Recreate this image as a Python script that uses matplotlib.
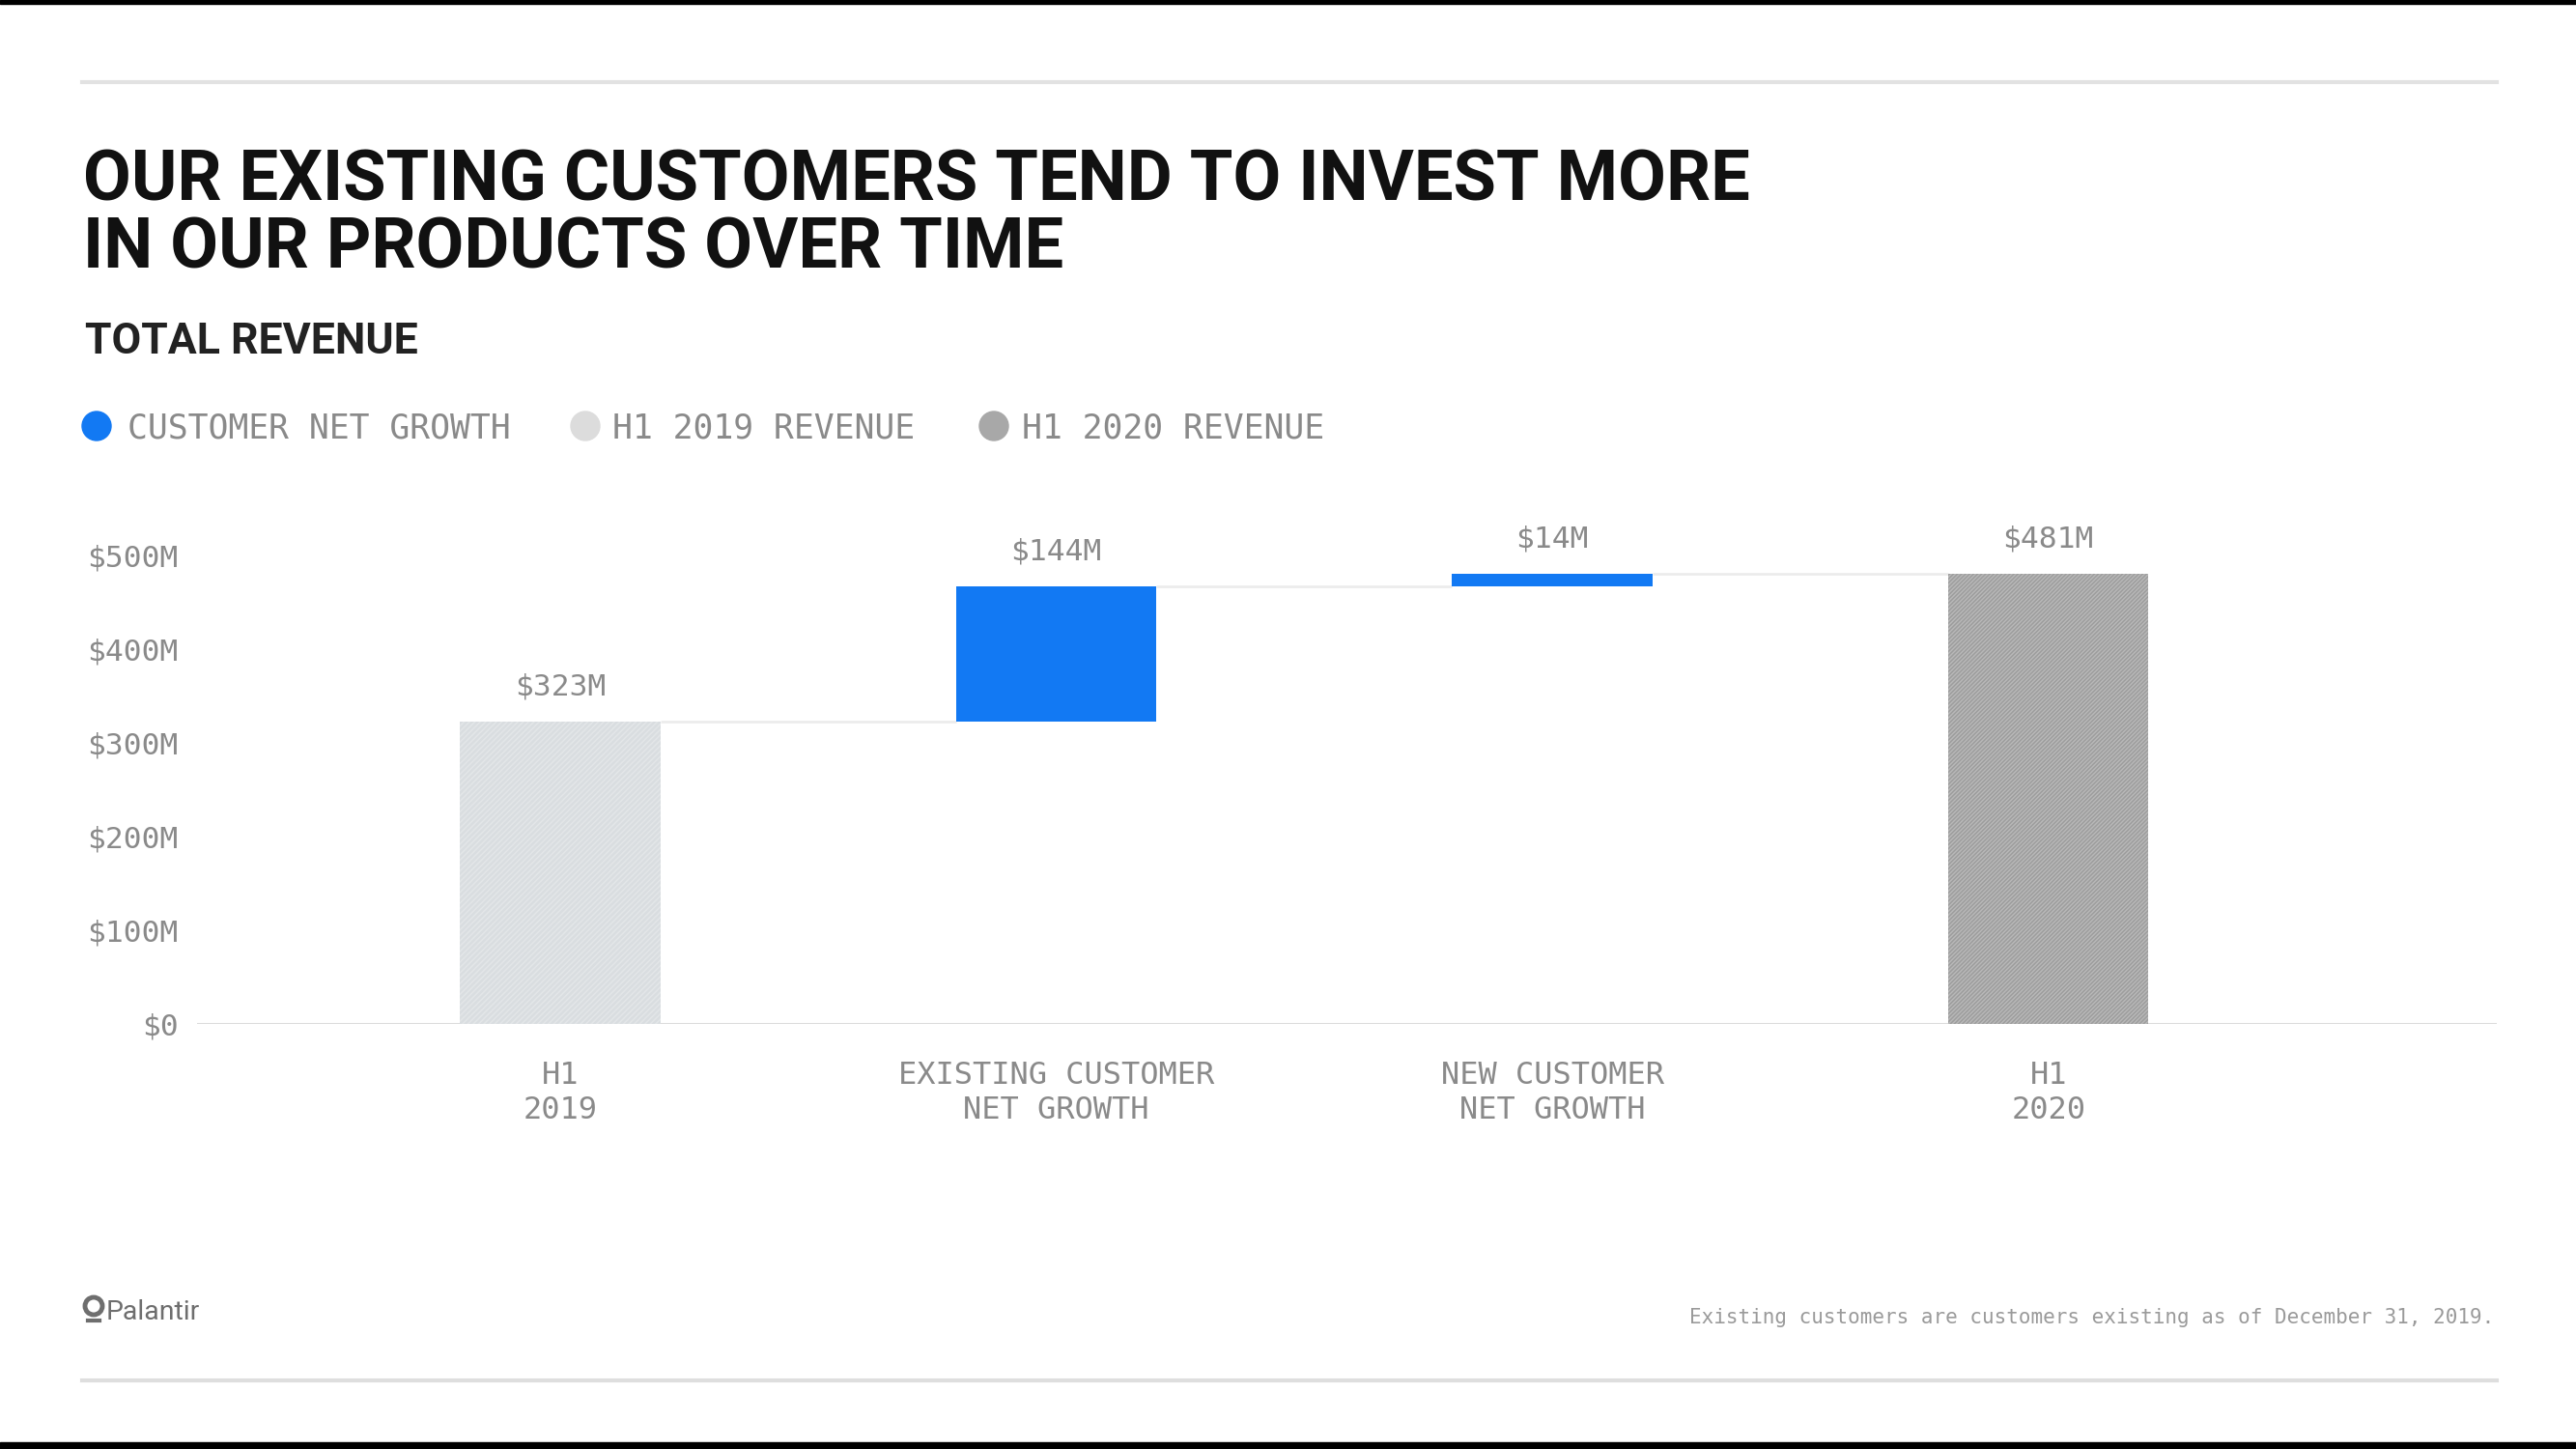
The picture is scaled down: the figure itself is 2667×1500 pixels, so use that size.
#!/usr/bin/env python3
"""Waterfall of total revenue, H1 2019 -> H1 2020, existing vs new customers."""

import matplotlib
matplotlib.use("Agg")
import matplotlib.pyplot as plt  # noqa: E402
from matplotlib.patches import Circle, Rectangle  # noqa: E402

# --- data --------------------------------------------------------------------
categories = ["H1\n2019", "EXISTING CUSTOMER\nNET GROWTH", "NEW CUSTOMER\nNET GROWTH", "H1\n2020"]
values = [323, 144, 14, 481]          # $M
kinds = ["start", "delta", "delta", "total"]
value_labels = ["$323M", "$144M", "$14M", "$481M"]
y_ticks = [0, 100, 200, 300, 400, 500]
y_tick_labels = ["$0", "$100M", "$200M", "$300M", "$400M", "$500M"]
legend_labels = ["CUSTOMER NET GROWTH", "H1 2019 REVENUE", "H1 2020 REVENUE"]

BLUE = "#1279f3"
LIGHT = "#d9dde0"
DARK = "#b9b9b9"
TXT = "#8a8a8a"
MONO = "DejaVu Sans Mono"
SANS = "Roboto"

W, H = 2667, 1500
plt.rcParams["hatch.linewidth"] = 1.1


def main():
    fig = plt.figure(figsize=(W / 100, H / 100), dpi=100)
    fig.patch.set_facecolor("white")

    # chart axes: $0 at y=1060 px, 100M ~ 97 px
    ybot, ytop_val = 1060, 600
    ytop = ybot - ytop_val * 0.9696
    left, right = 204, 2585
    ax = fig.add_axes([left / W, 1 - ybot / H, (right - left) / W, (ybot - ytop) / H])
    ax.set_xlim(-0.732, 3.904)
    ax.set_ylim(0, ytop_val)
    for s in ax.spines.values():
        s.set_visible(False)
    ax.axhline(0, color="#dcdcdc", lw=2.2, zorder=1)

    width = 0.404
    running = 0
    tops = []
    for i, (v, k) in enumerate(zip(values, kinds)):
        if k == "start":
            ax.bar(i, v, width, color=LIGHT, edgecolor="#e3e6e8", hatch="//////", lw=0, zorder=2)
            running = v
        elif k == "delta":
            ax.bar(i, v, width, bottom=running, color=BLUE, lw=0, zorder=2)
            running += v
        else:
            ax.bar(i, v, width, color=DARK, edgecolor="#9d9d9d", hatch="////////", lw=0, zorder=2)
            running = v
        tops.append(running)
        ax.annotate(value_labels[i], (i, running), xytext=(0, 26), textcoords="offset points",
                    ha="center", va="center", fontsize=22.5, color=TXT, family=MONO)

    # connector lines between bars
    for i in range(len(values) - 1):
        ax.plot([i + width / 2, i + 1 - width / 2], [tops[i], tops[i]],
                color="#ececec", lw=2, zorder=1, solid_capstyle="butt")

    ax.set_yticks(y_ticks)
    ax.set_yticklabels(y_tick_labels, family=MONO, fontsize=22.5, color=TXT)
    ax.set_xticks(range(len(categories)))
    ax.set_xticklabels(categories, family=MONO, fontsize=23, color=TXT, linespacing=1.25)
    ax.tick_params(axis="y", length=0, pad=14)
    ax.tick_params(axis="x", length=0, pad=27)

    # overlay in slide pixel coordinates for the page furniture
    ov = fig.add_axes([0, 0, 1, 1], zorder=-1)
    ov.set_xlim(0, W)
    ov.set_ylim(H, 0)
    ov.set_axis_off()
    ov.add_patch(Rectangle((0, 0), W, 4, color="black"))
    ov.add_patch(Rectangle((0, 1493), W, 7, color="black"))
    ov.plot([85, 2585], [85, 85], color="#e2e2e2", lw=3)
    ov.plot([85, 2585], [1429, 1429], color="#dedede", lw=3)

    ov.text(86, 207, "OUR EXISTING CUSTOMERS TEND TO INVEST MORE", family=SANS,
            weight="bold", fontsize=52, color="#111111", va="baseline")
    ov.text(86, 277, "IN OUR PRODUCTS OVER TIME", family=SANS,
            weight="bold", fontsize=52, color="#111111", va="baseline")
    ov.text(88, 366, "TOTAL REVENUE", family=SANS, weight="bold", fontsize=32,
            color="#222222", va="baseline")

    # legend
    for cx, tx, col, lab in zip([100, 606, 1029], [132, 634, 1058],
                                [BLUE, "#dcdcdc", "#a8a8a8"], legend_labels):
        ov.add_patch(Circle((cx, 441), 15, color=col))
        ov.text(tx, 443, lab, family=MONO, fontsize=25, color=TXT, va="center")

    # logo + footnote
    ov.add_patch(Circle((97, 1352), 9, fill=False, lw=3.5, ec="#6e6e6e"))
    ov.plot([91, 103], [1367, 1367], color="#6e6e6e", lw=3)
    ov.text(110, 1358, "Palantir", family=SANS, fontsize=20.5, color="#6e6e6e", va="center")
    ov.text(2582, 1364, "Existing customers are customers existing as of December 31, 2019.",
            family=MONO, fontsize=15, color="#9a9a9a", ha="right", va="center")

    fig.savefig("out.png", dpi=100)
    plt.close(fig)


if __name__ == "__main__":
    main()
